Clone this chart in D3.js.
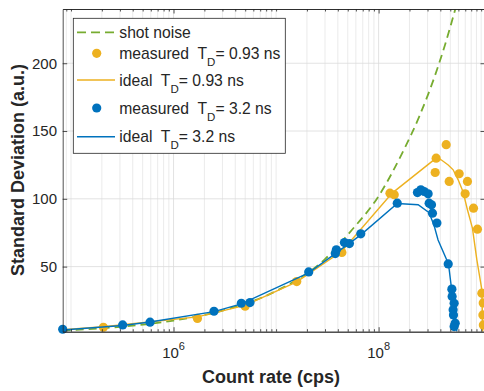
<!DOCTYPE html>
<html>
<head>
<meta charset="utf-8">
<script src="https://cdn.jsdelivr.net/npm/d3@7"></script>
<style>
body { margin: 0; background: #fff; }
svg { display: block; font-family: "Liberation Sans", Arial, Helvetica, sans-serif; }
text { white-space: pre; }
</style>
</head>
<body>
<svg id="chart" width="484" height="391"></svg>
<script>
// shot noise curve
const shotRate = [8.3e4, 1e5, 3e5, 1e6, 3e6, 1e7, 3e7, 5.48e7, 1e8, 1.68e8, 2.5e8, 3.7e8, 4.5e8, 5.6e8];
const shotSD = [2.9, 3.2, 5.6, 10.2, 17.6, 32, 55.5, 77, 102, 133, 161, 195, 215, 240];

// T_D = 0.93 ns
const measRate093 = [2.07e5, 1.71e6, 4.99e6, 1.59e7, 4.38e7, 1.29e8, 1.42e8, 3.64e8, 4.56e8, 3.56e8,
  4.88e8, 6.1e8, 7.35e8, 6.98e8, 8.42e8, 9.2e8, 1.016e9, 1.047e9, 1.04e9, 1.05e9];
const measSD093 = [5.3, 11.8, 20.8, 39, 60.4, 104.2, 103, 130, 139.9, 119.4,
  112.8, 118.5, 112.8, 103.7, 93.1, 77.6, 30.4, 23.2, 14.4, 7];
const idealRate093 = [8.3e4, 2.07e5, 1.71e6, 4.99e6, 1.59e7, 4.38e7, 1.355e8, 3.64e8, 4.07e8, 4.77e8,
  5.33e8, 5.97e8, 6.67e8, 7.35e8, 8.22e8, 9.08e8, 1.016e9, 1.035e9];
const idealSD093 = [3.5, 5.7, 12.9, 21.4, 38.7, 61.3, 104.2, 130, 128.8, 125,
  121.4, 114, 105, 91.9, 78.4, 55, 32.8, 2.2];

// T_D = 3.2 ns
const measRate32 = [8.3e4, 3.19e5, 5.9e5, 2.48e6, 4.58e6, 5.57e6, 2.08e7, 3.87e7, 3.78e7, 4.64e7,
  5.19e7, 6.7e7, 1.52e8, 2.39e8, 2.58e8, 2.78e8, 3.04e8, 3.11e8, 3.28e8, 3.35e8,
  3.7e8, 4.77e8, 5.18e8, 5.21e8, 5.45e8, 5.33e8, 5.37e8, 5.58e8, 5.45e8];
const measSD32 = [3.8, 7.0, 9.0, 17.1, 23, 23.5, 46.1, 62.4, 59.6, 67.7,
  67, 74.2, 96.8, 104.6, 106.6, 105.4, 103.7, 96.8, 95.6, 89.4,
  82.1, 52, 33.4, 27.9, 23, 18.1, 14.4, 8.3, 5.8];
const idealRate32 = [8.3e4, 3.19e5, 5.9e5, 2.48e6, 4.58e6, 2.08e7, 3.87e7, 6.7e7, 1.52e8, 2.43e8,
  3.11e8, 3.48e8, 3.8e8, 4.8e8, 5.79e8];
const idealSD32 = [3.3, 6.6, 9.2, 16.8, 22.5, 45.4, 60.1, 73.4, 96.5, 95.6,
  89.7, 80.1, 69.7, 52, 2.2];

const yTicks = [50, 100, 150, 200];
const xLabelled = [1e6, 1e8];
const xLabelExp = ['6', '8'];

const colors = { shot: '#77AC30', fast: '#EDB120', slow: '#0072BD', axis: '#262626' };

const svg = d3.select('#chart');
const plotL = 62.7, plotR = 485, plotT = 9, plotB = 331.7;

const x = d3.scaleLog().domain([8.3e4, 1.09e9]).range([plotL, plotR]);
const y = d3.scaleLinear().domain([2, 240]).range([plotB, plotT]);

// minor x values: every 1..9 x decade inside the domain, except labelled decades
const minorX = [];
for (let e = 4; e <= 9; e++) {
    for (let k = 1; k <= 9; k++) {
        const v = k * Math.pow(10, e);
        if (v > x.domain()[0] && v < x.domain()[1] && !xLabelled.includes(v)) minorX.push(v);
    }
}

// grid
const grid = svg.append('g');
grid.selectAll('.minor')
    .data(minorX)
    .enter()
    .append('line')
    .attr('x1', d => x(d)).attr('x2', d => x(d))
    .attr('y1', plotT).attr('y2', plotB)
    .attr('stroke', '#e6e6e6').attr('stroke-width', 0.8);
grid.selectAll('.major')
    .data(xLabelled)
    .enter()
    .append('line')
    .attr('x1', d => x(d)).attr('x2', d => x(d))
    .attr('y1', plotT).attr('y2', plotB)
    .attr('stroke', '#dadada').attr('stroke-width', 0.8);
grid.selectAll('.hgrid')
    .data(yTicks)
    .enter()
    .append('line')
    .attr('x1', plotL).attr('x2', plotR)
    .attr('y1', d => y(d)).attr('y2', d => y(d))
    .attr('stroke', '#dadada').attr('stroke-width', 0.8);

svg.append('clipPath').attr('id', 'plot-clip')
    .append('rect').attr('x', plotL).attr('y', plotT)
    .attr('width', plotR - plotL).attr('height', plotB - plotT);

const lineGen = d3.line()
    .x(d => x(d[0]))
    .y(d => y(d[1]));

// shot noise
svg.append('path')
    .datum(d3.zip(shotRate, shotSD))
    .attr('d', lineGen.curve(d3.curveMonotoneX))
    .attr('clip-path', 'url(#plot-clip)')
    .attr('fill', 'none')
    .attr('stroke', colors.shot)
    .attr('stroke-width', 1.8)
    .attr('stroke-dasharray', '8,5');

lineGen.curve(d3.curveLinear);

function drawPoints(rates, sds, color) {
    svg.append('g')
        .selectAll('circle')
        .data(d3.zip(rates, sds))
        .enter()
        .append('circle')
        .attr('cx', d => x(d[0]))
        .attr('cy', d => y(d[1]))
        .attr('r', 4.6)
        .attr('fill', color);
}

function drawLine(rates, sds, color) {
    svg.append('path')
        .datum(d3.zip(rates, sds))
        .attr('d', lineGen)
        .attr('fill', 'none')
        .attr('stroke', color)
        .attr('stroke-width', 1.4);
}

drawPoints(measRate093, measSD093, colors.fast);
drawLine(idealRate093, idealSD093, colors.fast);
drawPoints(measRate32, measSD32, colors.slow);
drawLine(idealRate32, idealSD32, colors.slow);

// axes box with inward ticks
function styleAxis(g) {
    g.selectAll('path, line').attr('stroke', colors.axis).attr('stroke-width', 0.8);
    g.selectAll('text').remove();
}
const axes = [
    [d3.axisBottom(x).tickValues(xLabelled).tickSize(-4.5), `translate(0,${plotB})`],
    [d3.axisBottom(x).tickValues(minorX).tickSize(-2.5), `translate(0,${plotB})`],
    [d3.axisTop(x).tickValues(xLabelled).tickSize(-4.5), `translate(0,${plotT})`],
    [d3.axisTop(x).tickValues(minorX).tickSize(-2.5), `translate(0,${plotT})`],
    [d3.axisLeft(y).tickValues(yTicks).tickSize(-4.5), `translate(${plotL},0)`],
    [d3.axisRight(y).tickValues(yTicks).tickSize(-4.5), `translate(${plotR},0)`]
];
axes.forEach(([axis, tr]) => {
    svg.append('g')
        .attr('transform', tr)
        .call(axis.tickSizeOuter(0))
        .call(styleAxis);
});

// tick labels
svg.selectAll('.ylabel')
    .data(yTicks)
    .enter()
    .append('text')
    .attr('x', 57)
    .attr('y', d => y(d) + 5.4)
    .attr('text-anchor', 'end')
    .attr('font-size', 15)
    .attr('fill', colors.axis)
    .text(d => d);

const xl = svg.selectAll('.xlabel')
    .data(d3.zip(xLabelled, xLabelExp))
    .enter()
    .append('text')
    .attr('x', d => x(d[0]))
    .attr('y', 358.4)
    .attr('text-anchor', 'middle')
    .attr('fill', colors.axis);
xl.append('tspan').attr('font-size', 15).text('10');
xl.append('tspan').attr('font-size', 11).attr('dy', -8).text(d => d[1]);

// axis titles
svg.append('text')
    .attr('x', 271)
    .attr('y', 383)
    .attr('text-anchor', 'middle')
    .attr('font-size', 18)
    .attr('font-weight', 'bold')
    .attr('fill', colors.axis)
    .text('Count rate (cps)');
svg.append('text')
    .attr('transform', 'translate(24,170) rotate(-90)')
    .attr('text-anchor', 'middle')
    .attr('font-size', 18)
    .attr('font-weight', 'bold')
    .attr('fill', colors.axis)
    .text('Standard Deviation (a.u.)');

// legend
const legendEntries = [
    { kind: 'dash', color: colors.shot, text: 'shot noise' },
    { kind: 'dot', color: colors.fast, text: 'measured  T', sub: 'D', rest: '= 0.93 ns' },
    { kind: 'line', color: colors.fast, text: 'ideal  T', sub: 'D', rest: '= 0.93 ns' },
    { kind: 'dot', color: colors.slow, text: 'measured  T', sub: 'D', rest: '= 3.2 ns' },
    { kind: 'line', color: colors.slow, text: 'ideal  T', sub: 'D', rest: '= 3.2 ns' }
];
const legendRowY = [32.3, 53.3, 80, 108, 136.7];

const legend = svg.append('g');
legend.append('rect')
    .attr('x', 73.3).attr('y', 18.3)
    .attr('width', 212).attr('height', 135)
    .attr('fill', '#fff')
    .attr('stroke', colors.axis)
    .attr('stroke-width', 0.8);

legendEntries.forEach((entry, i) => {
    const cy = legendRowY[i];
    if (entry.kind === 'dot') {
        legend.append('circle').attr('cx', 96.7).attr('cy', cy).attr('r', 4.6).attr('fill', entry.color);
    } else {
        legend.append('line')
            .attr('x1', 77).attr('x2', 115)
            .attr('y1', cy).attr('y2', cy)
            .attr('stroke', entry.color)
            .attr('stroke-width', entry.kind === 'dash' ? 1.8 : 1.4)
            .attr('stroke-dasharray', entry.kind === 'dash' ? '9,5' : null);
    }
    const t = legend.append('text')
        .attr('x', 119.3)
        .attr('y', cy + 5.6)
        .attr('font-size', 15.7)
        .attr('fill', colors.axis);
    t.append('tspan').text(entry.text);
    if (entry.sub) {
        t.append('tspan').attr('font-size', 11.5).attr('dy', 7).text(entry.sub);
        t.append('tspan').attr('font-size', 15.7).attr('dy', -7).text(entry.rest);
    }
});
</script>
</body>
</html>
